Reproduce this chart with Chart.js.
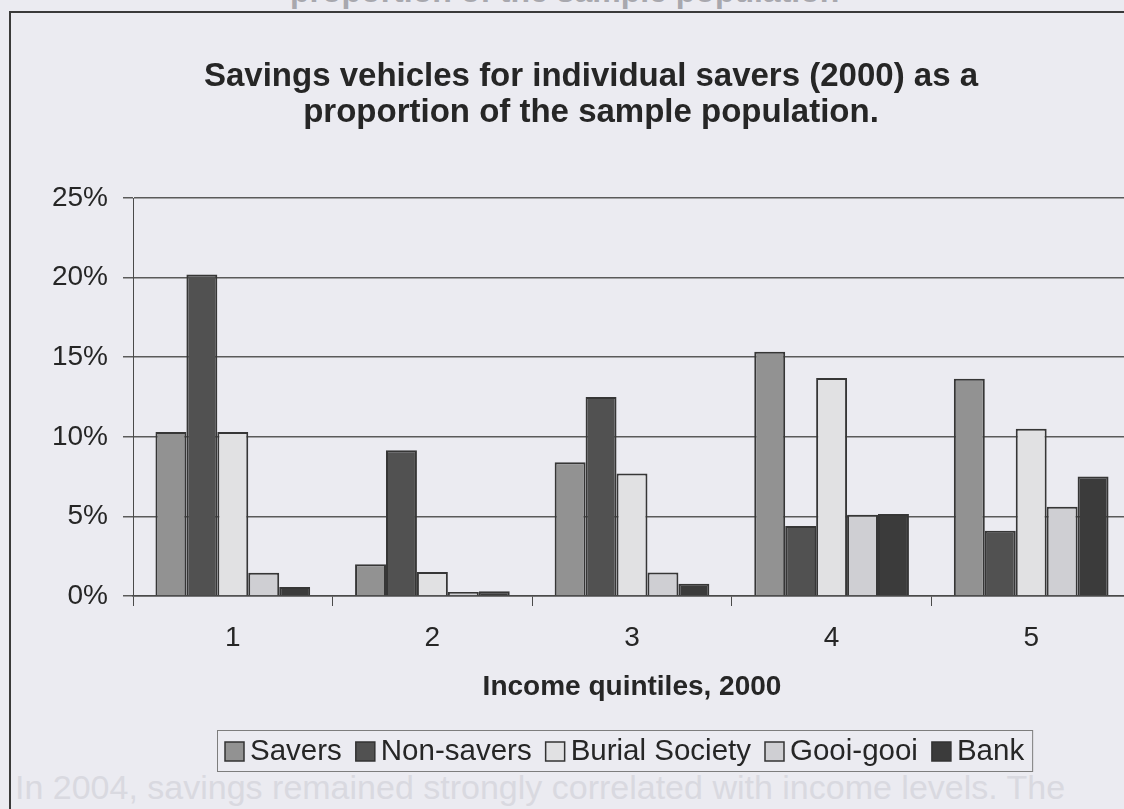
<!DOCTYPE html>
<html>
<head>
<meta charset="utf-8">
<title>Savings vehicles 2000</title>
<script src="https://cdn.jsdelivr.net/npm/chart.js@4.4.1/dist/chart.umd.min.js"></script>
<style>
    html, body { margin: 0; padding: 0; overflow: hidden; background: #ebebf1; }
    body { font-family: "Liberation Sans", Arial, Helvetica, sans-serif; }
    .page-text {
        position: absolute;
        white-space: nowrap;
        margin: 0;
    }
    #prevCaption {
        top: -27px;
        left: 290px;
        font-size: 32px;
        font-weight: bold;
        color: #a8a8ae;
    }
    #bodyText {
        top: 768px;
        left: 15px;
        font-size: 34px;
        color: #d9d9e0;
    }
    #frame {
        position: absolute;
        left: 9px;
        top: 11px;
        width: 1166px;
        height: 800px;
        border: 2px solid #3a3a3a;
    }
    #savingsChart { display: block; }
</style>
</head>
<body>
<p class="page-text" id="prevCaption">proportion of the sample population</p>
<p class="page-text" id="bodyText">In 2004, savings remained strongly correlated with income levels. The</p>
<div id="frame"><canvas id="savingsChart" width="1166" height="800"></canvas></div>
<script>
    // Income quintiles and share of sample (%) per savings vehicle
    const quintiles = ['1', '2', '3', '4', '5'];
    const savers = [10.3, 2.0, 8.4, 15.35, 13.65];
    const nonSavers = [20.2, 9.15, 12.5, 4.4, 4.1];
    const burialSociety = [10.3, 1.5, 7.7, 13.7, 10.5];
    const gooiGooi = [1.46, 0.25, 1.48, 5.1, 5.6];
    const bank = [0.56, 0.3, 0.77, 5.15, 7.5];
    const yTicks = [0, 5, 10, 15, 20, 25];

    const FONT = '"Liberation Sans", Arial, Helvetica, sans-serif';
    const INK = '#262626';

    // --- Boxed legend under the axis title
    const legendBox = {
        id: 'legendBox',
        afterDraw(chart) {
            const ctx = chart.ctx;
            const sets = chart.data.datasets;
            const box = 19, gapText = 6, gapItem = 14, pad = 8, h = 41;
            ctx.save();
            ctx.font = '29.5px ' + FONT;
            ctx.textBaseline = 'middle';
            let w = pad * 2;
            sets.forEach((ds, i) => {
                w += box + gapText + ctx.measureText(ds.label).width;
                if (i < sets.length - 1) w += gapItem;
            });
            const left = Math.round(614 - w / 2), top = 717;
            ctx.strokeStyle = '#7d7d7d';
            ctx.lineWidth = 1;
            ctx.strokeRect(left + 0.5, top + 0.5, w, h);
            let x = left + pad;
            const cy = top + h / 2 + 1;
            sets.forEach(ds => {
                ctx.fillStyle = ds.backgroundColor;
                ctx.fillRect(x, cy - box / 2, box, box);
                ctx.strokeStyle = '#333';
                ctx.lineWidth = 1.5;
                ctx.strokeRect(x, cy - box / 2, box, box);
                x += box + gapText;
                ctx.fillStyle = INK;
                ctx.fillText(ds.label, x, cy);
                x += ctx.measureText(ds.label).width + gapItem;
            });
            ctx.restore();
        }
    };

    function series(label, data, color) {
        return {
            label: label,
            data: data,
            backgroundColor: color,
            borderColor: '#363636',
            borderWidth: 2,
            borderSkipped: 'bottom',
            categoryPercentage: 0.775,
            barPercentage: 1
        };
    }

    new Chart(document.getElementById('savingsChart').getContext('2d'), {
        type: 'bar',
        data: {
            labels: quintiles,
            datasets: [
                series('Savers', savers, '#929292'),
                series('Non-savers', nonSavers, '#515151'),
                series('Burial Society', burialSociety, '#e1e1e3'),
                series('Gooi-gooi', gooiGooi, '#cfcfd3'),
                series('Bank', bank, '#3b3b3b')
            ]
        },
        options: {
            responsive: false,
            animation: false,
            layout: { padding: { left: 40, right: 46, top: 0, bottom: 105 } },
            plugins: {
                legend: { display: false },
                tooltip: { enabled: false },
                title: {
                    display: true,
                    text: ['Savings vehicles for individual savers (2000) as a',
                           'proportion of the sample population.'],
                    color: INK,
                    font: { family: FONT, size: 33, weight: 'bold', lineHeight: 36 / 33 },
                    padding: { top: 46, bottom: 67 }
                }
            },
            scales: {
                x: {
                    afterFit(scale) { scale.height = 112; },
                    grid: {
                        offset: true,
                        drawOnChartArea: false,
                        drawTicks: true,
                        tickLength: 10,
                        color: '#4a4a4a',
                        lineWidth: 1
                    },
                    border: { color: '#4a4a4a', width: 1.5 },
                    ticks: { color: INK, padding: 15, font: { family: FONT, size: 28 } },
                    title: {
                        display: true,
                        text: 'Income quintiles, 2000',
                        color: INK,
                        font: { family: FONT, size: 28, weight: 'bold' },
                        padding: { top: 4, bottom: 4 }
                    }
                },
                y: {
                    min: 0,
                    max: 25,
                    afterFit(scale) { scale.width = 82; },
                    afterBuildTicks(scale) { scale.ticks = yTicks.map(v => ({ value: v })); },
                    grid: { color: '#5a5a5a', lineWidth: 1.5, tickLength: 10 },
                    border: { color: '#4a4a4a', width: 1 },
                    ticks: {
                        color: INK,
                        padding: 15,
                        font: { family: FONT, size: 28 },
                        callback: v => v + '%'
                    }
                }
            }
        },
        plugins: [legendBox]
    });
</script>
</body>
</html>
